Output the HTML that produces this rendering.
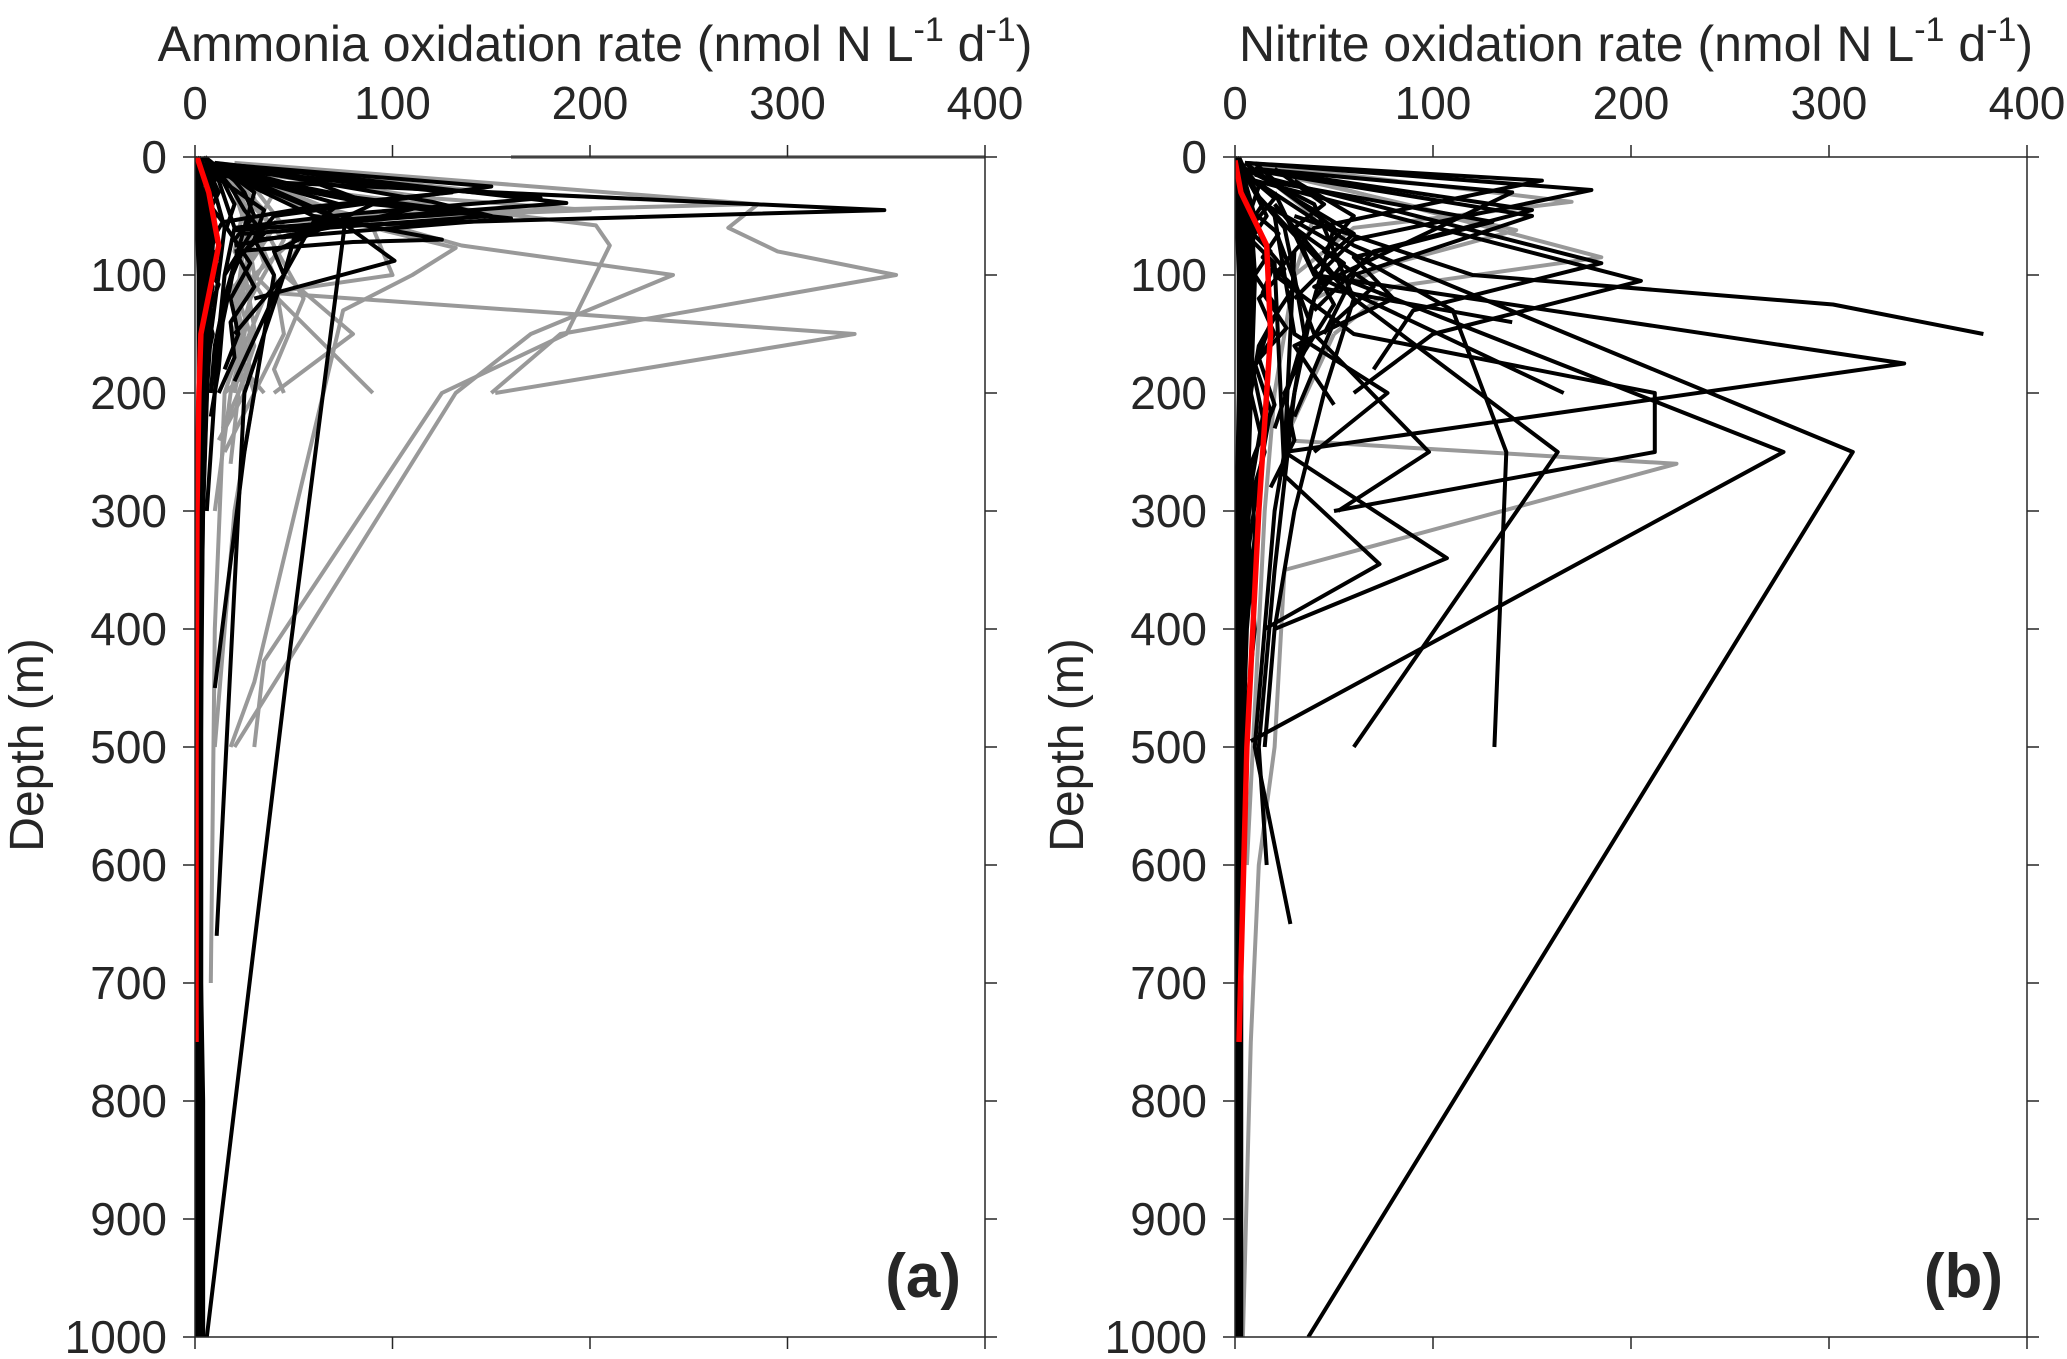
<!DOCTYPE html>
<html><head><meta charset="utf-8"><style>
html,body{margin:0;padding:0;background:#fff;}
svg{display:block;}
text{font-family:"Liberation Sans",Arial,sans-serif;fill:#262626;}
</style></head><body>
<svg id="fig" width="2067" height="1359" viewBox="0 0 2067 1359" xmlns="http://www.w3.org/2000/svg">
<g id="pa"></g>
<g id="pb"></g>
</svg>
<script>
// ---------- data ----------
const xTicks = [0, 100, 200, 300, 400];
const yTicks = [0, 100, 200, 300, 400, 500, 600, 700, 800, 900, 1000];

// Panel (a) ammonia oxidation: gray profiles
const aGrayDepths = [
  [0,0],[5,40,60,80,100,150,200],[10,40,75,100,150,200,500],[20,58,75,150,200,427,500],
  [10,60,100,115,150,200],[5,62,77,100,130,200,445,500],[10,50,100,150,200],
  [15,70,100,150,200],[20,60,120,180,200],[5,30,60,100,150,200,300,500],
  [10,40,80,120,160,200],[5,25,50,100,150,200,400,700],[8,12,20,15,10],
  [10,50,100,150,200,250],[10,60,110,160,200,260],[5,40,90,140,200,240],[10,70,120,170,200],
  [20,80,130,180,200],[10,45,95,145,190],[15,55,105,155,200,300],[5,35,85,135,185,230],
  [5,30,40,50],[10,35,45,55]
];
const aGrayValues = [
  [160,400],[20,285,270,295,355,185,150],[15,60,135,242,170,132,20,16],[20,203,210,188,125,35,30],
  [10,90,100,38,334,152],[10,95,132,110,75,65,30,18],[20,60,45,80,40],
  [25,50,30,60,90],[15,35,55,40,45],[10,40,30,40,45,30,20,10],
  [10,25,20,35,25,20],[5,20,25,30,25,15,10,8],[30,70,75,50,20],
  [10,30,25,20,30,15],[15,40,20,30,22,18],[10,25,35,18,25,12],[12,45,28,20,35],
  [18,30,22,28,15],[15,35,25,30,22],[20,28,18,25,18,10],[8,30,24,20,26,14],
  [10,150,280,60],[15,120,200,40]
];
// Panel (a) black profiles
const aBlackDepths = [
  [0,20,45,60,100],[5,25,50,80],[5,39,55,100,150],[10,55,445,1000],[10,50,88,120],
  [10,40,70,100,200,660],[5,30,60,100,150,200,300,500,750,1000],[0,20,50,100,150,250,400,600,800,1000],
  [5,15,40,80,100,190],[0,10,30,60,90,130,200,350,500,700,900,1000],[10,45,70,100,250,450],
  [0,20,40,60,100,150,200,300,400,500,600,800,1000],[5,30,60,90,120,160,200],[5,20,60,100,150,200,300],
  [0,15,30,50,70,90,110,140,170,200,250],[0,10,25,45,65,85,105,130,160,190,230],
  [5,20,35,55,75,95,120,150,180,210],[0,12,28,48,68,88,108,135,165,200,260],
  [0,15,35,55,75,100,125,150,200,300,500,750,1000],[0,10,30,50,80,100,150,200,400,600,800,1000],
  [10,30,50,70,90,120,150,180],[5,25,45,65,85,110,140,170,200],[0,20,40,60,80,100,140,180,220],
  [10,30,42,55],[10,35,48,60],[5,38,50,65],[15,40,52,70],[10,44,56,75],[5,32,47,62],[10,50,70,72,80]
];
const aBlackValues = [
  [5,20,349,30,15],[5,150,40,25],[10,188,60,45,20],[10,76,46,6],[15,70,101,30],
  [10,73,50,45,25,11],[2,10,15,12,8,6,4,3,2,2],[1,5,10,8,6,4,3,2,1,1],
  [5,50,90,40,45,20],[0,3,8,6,5,4,3,2,2,1,1,1],[5,35,30,40,25,10],
  [0,2,4,3,3,2,2,1,1,1,1,1,1],[10,30,25,20,15,10,8],[5,12,20,15,12,10,6],
  [2,8,12,6,10,4,9,5,7,3,2],[1,6,3,9,4,11,5,8,3,6,2],
  [3,10,5,14,7,12,4,9,5,3],[2,5,10,4,8,3,12,6,4,5,2],
  [1,4,8,10,12,9,7,5,3,2,2,3,3],[0,3,6,9,7,5,4,3,2,2,2,2],
  [15,25,30,20,28,18,22,15],[8,18,25,35,22,30,18,20,12],[4,14,20,16,24,19,14,12,8],
  [10,130,60,15],[8,175,80,20],[5,120,150,25],[12,90,160,30],[8,110,80,20],[6,70,140,20],[10,60,125,80,20]
];
const aMeanDepths = [0,10,30,75,100,150,200,300,500,750];
const aMeanValues = [1,3,7,12,9,3,2,1,0.5,0.5];

// Panel (b) nitrite oxidation: gray profiles
const bGrayDepths = [[5,38,60,100],[10,62,90,120],[5,85,110,150],[150,240,260,350,500,600,750,1000],[10,50,100,150,200,300,400,600]];
const bGrayValues = [[5,170,60,30],[10,142,80,40],[5,185,80,50],[50,25,223,25,20,12,8,4],[10,40,30,25,20,15,12,6]];
// Panel (b) black profiles
const bBlackDepths = [
  [50,100,125,150],[60,100,175,250],[100,150,200,250,300],[20,75,250,1000],[40,100,250,495],
  [30,120,250,500],[40,130,250,500],[60,150,250,300],[80,250,340,400],[90,270,345,400],
  [30,100,200],[50,150,200,250],[5,20,60,100],[5,28,70,120],[10,45,80,130],[10,50,100,150],
  [20,105,150,200],[15,90,130,180],[0,30,60,100,150,200,300,400,500,650],[0,20,50,100,200,300,500,750,1000],
  [10,40,80,120,200,300,400,500],[5,60,120,200,350,500,600],[0,10,40,70,100,150,200,300,400,500,600,800,1000],
  [10,30,70,110,140],[20,55,85,120,160,210],
  [0,20,40,60,80,100,130,160,200,250,300,400,500],[0,15,35,55,75,95,120,150,180,220,280,350,450],
  [5,25,45,65,85,110,140,170,210,260,320,400,500],[0,10,30,50,70,90,115,145,175,215,270,330,420,560],
  [10,40,60,90,120,150,190,230],[5,35,65,95,125,165,200,240,280],[20,50,80,110,140,180,220]
];
const bBlackValues = [
  [30,120,302,378],[30,40,338,25],[20,60,212,212,50],[10,60,312,37],[20,50,277,8],
  [10,60,163,60],[15,110,137,131],[20,40,98,52],[30,25,107,20],[20,25,73,15],
  [20,40,166],[20,30,77,40],[5,155,40,20],[5,180,60,30],[10,150,70,40],[5,150,60,45],
  [10,205,100,60],[10,185,90,70],[0,10,25,30,35,30,20,15,10,28],[0,5,10,8,6,5,4,3,2],
  [5,40,50,60,45,30,20,15],[5,50,40,30,20,12,16],[0,2,4,5,5,4,3,3,2,2,2,2,2],
  [10,140,90,40,140],[15,130,60,80,30,50],
  [1,8,14,6,18,10,22,12,8,15,6,10,4],[2,6,20,10,15,25,12,20,9,14,8,5,3],
  [3,12,8,22,14,30,18,12,20,8,10,6,4],[1,4,10,16,8,20,14,26,10,18,12,7,5,3],
  [20,45,30,55,40,35,28,20],[10,30,60,40,50,35,25,30,18],[30,60,45,70,50,40,30]
];
const bMeanDepths = [3,30,75,150,300,500,750];
const bMeanValues = [0,3,16,18,12,6,2];

// near-zero deep profiles (both panels)
const deepDepths = [0,50,100,200,300,400,500,600,700,800,900,1000];
const deepValuesA = [[0,1,2,2,1,1,1,1,1,1,1,1],[0,2,3,3,2,2,2,2,2,2,2,2],[0,3,4,4,3,3,3,3,3,3,3,3],[1,4,5,3,2,1,1,1,1,2,2,2],[0,5,6,4,3,2,2,2,1,1,1,1],[0,6,8,6,4,3,3,3,3,4,4,4]];
const deepValuesB = [[0,1,2,2,1,1,1,1,1,1,1,1],[0,2,3,3,2,2,2,2,2,2,2,2],[0,3,4,4,3,3,3,3,3,3,3,3],[1,4,6,5,4,3,2,2,2,2,2,2],[0,6,8,6,5,4,3,3,2,2,2,2],[0,8,10,8,6,5,4,4,3,3,3,3]];

// ---------- drawing ----------
const NS = 'http://www.w3.org/2000/svg';
function mk(tag, attrs, parent){
  const e = document.createElementNS(NS, tag);
  for (const k in attrs) e.setAttribute(k, attrs[k]);
  parent.appendChild(e);
  return e;
}
function drawPanel(g, x0, x1, title, label, gd, gv, bd, bv, md, mv, deepV){
  const y0 = 157, y1 = 1337;
  const sx = v => x0 + (v / 400) * (x1 - x0);
  const sy = d => y0 + (d / 1000) * (y1 - y0);
  const clip = mk('clipPath', {id: 'clip' + label}, g);
  mk('rect', {x: x0, y: y0 - 4, width: x1 - x0 + 4, height: y1 - y0 + 4}, clip);
  const plot = mk('g', {'clip-path': 'url(#clip' + label + ')'}, g);
  
  
  function line(ds, vs, color, w, name){
    const pts = ds.map((d, i) => sx(vs[i]).toFixed(1) + ',' + sy(d).toFixed(1)).join(' ');
    const p = mk('polyline', {points: pts, fill: 'none', stroke: color, 'stroke-width': w, 'stroke-linejoin': 'round'}, plot);
    
    
  }
  gd.forEach((d, i) => line(d, gv[i], '#999999', 4, 'gray-profile'));
  bd.forEach((d, i) => line(d, bv[i], '#000000', 4, 'black-profile'));
  deepV.forEach(v => line(deepDepths, v, '#000000', 4.5, 'near-zero-profile'));
  line(md, mv, '#ff0000', 5.5, 'mean-profile');
  const ax = mk('rect', {x: x0, y: y0, width: x1 - x0, height: y1 - y0, fill: 'none', stroke: '#262626', 'stroke-width': 1.5}, g);
  
  
  xTicks.forEach(t => {
    const x = sx(t);
    mk('line', {x1: x, y1: y0, x2: x, y2: y0 - 12, stroke: '#262626', 'stroke-width': 1.5}, g);
    mk('line', {x1: x, y1: y1, x2: x, y2: y1 + 12, stroke: '#262626', 'stroke-width': 1.5}, g);
    const tx = mk('text', {x: x, y: 119, 'font-size': 46, 'text-anchor': 'middle'}, g);
    tx.textContent = t;
    
    
  });
  yTicks.forEach(t => {
    const y = sy(t);
    mk('line', {x1: x0, y1: y, x2: x0 - 12, y2: y, stroke: '#262626', 'stroke-width': 1.5}, g);
    mk('line', {x1: x1, y1: y, x2: x1 + 12, y2: y, stroke: '#262626', 'stroke-width': 1.5}, g);
    const ty = mk('text', {x: x0 - 28, y: y + 16, 'font-size': 46, 'text-anchor': 'end'}, g);
    ty.textContent = t;
    
    
  });
  const tt = mk('text', {x: (x0 + x1) / 2 + 5, y: 61, 'font-size': 50, 'text-anchor': 'middle'}, g);
  tt.innerHTML = title + ' (nmol N L<tspan dy="-20" font-size="34">-1</tspan><tspan dy="20"> d</tspan><tspan dy="-20" font-size="34">-1</tspan><tspan dy="20">)</tspan>';
  
  
  const yl = mk('text', {x: 0, y: 0, 'font-size': 48, 'text-anchor': 'middle', transform: 'translate(' + (x0 - 152) + ',745) rotate(-90)'}, g);
  yl.textContent = 'Depth (m)';
  
  
  const pl = mk('text', {x: x1 - 24, y: 1297, 'font-size': 62, 'font-weight': 'bold', 'text-anchor': 'end', fill: '#000'}, g);
  pl.textContent = '(' + label + ')';
  
  
}
drawPanel(document.getElementById('pa'), 195, 985, 'Ammonia oxidation rate', 'a', aGrayDepths, aGrayValues, aBlackDepths, aBlackValues, aMeanDepths, aMeanValues, deepValuesA);
drawPanel(document.getElementById('pb'), 1235, 2027, 'Nitrite oxidation rate', 'b', bGrayDepths, bGrayValues, bBlackDepths, bBlackValues, bMeanDepths, bMeanValues, deepValuesB);
</script>
</body></html>
